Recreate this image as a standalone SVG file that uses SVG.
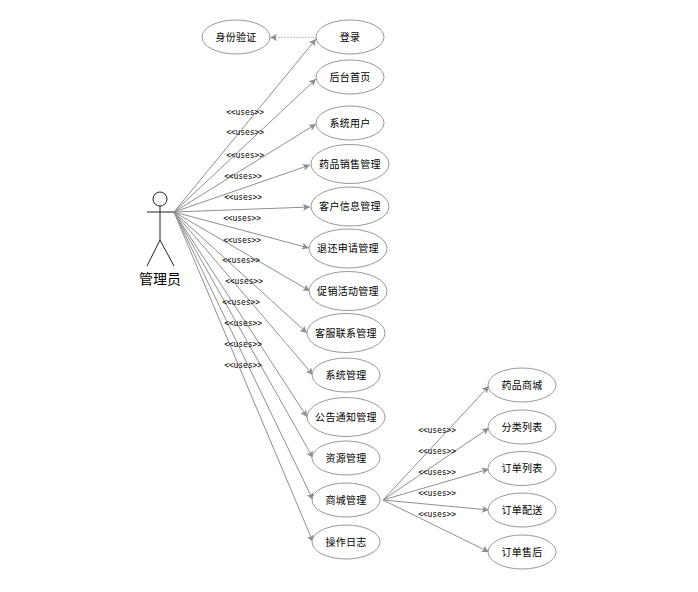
<svg xmlns="http://www.w3.org/2000/svg" width="698" height="592" viewBox="0 0 698 592">
<style>
.n ellipse{fill:#fff;stroke:#999;stroke-width:1}
.n text{font:10px "Noto Sans CJK SC","Liberation Sans",sans-serif;letter-spacing:.3px;fill:#000;text-anchor:middle;dominant-baseline:central}
.l{font:8px "DejaVu Sans Mono","Liberation Mono",monospace;letter-spacing:-.1px;fill:#000;text-anchor:middle}
#connectors line{stroke:#8f8f8f;stroke-width:1;marker-end:url(#a)}
</style>
<defs><marker id="a" markerUnits="userSpaceOnUse" markerWidth="8" markerHeight="8" refX="7" refY="3.500" orient="auto"><path d="M0 0L7 3.500L0 7L1.500 3.500Z" fill="#8f8f8f"/></marker></defs>
<rect width="698" height="592" fill="#fff"/>
<g id="connectors">
<line x1="316" y1="37.500" x2="270" y2="37.500" stroke-dasharray="2 1" style="stroke:#b5b5b5;stroke-width:.8"/>
<line x1="174" y1="212" x2="316" y2="39"/>
<line x1="174" y1="212" x2="316" y2="79"/>
<line x1="174" y1="212" x2="316" y2="124"/>
<line x1="174" y1="212" x2="310" y2="165"/>
<line x1="174" y1="212" x2="310" y2="207"/>
<line x1="174" y1="212" x2="309" y2="248"/>
<line x1="174" y1="212" x2="310" y2="291"/>
<line x1="174" y1="212" x2="307" y2="333"/>
<line x1="174" y1="212" x2="313" y2="375"/>
<line x1="174" y1="212" x2="307" y2="417"/>
<line x1="174" y1="212" x2="313" y2="458"/>
<line x1="174" y1="212" x2="313" y2="500"/>
<line x1="174" y1="212" x2="313" y2="542"/>
<line x1="383" y1="500" x2="489" y2="386"/>
<line x1="383" y1="500" x2="489" y2="428"/>
<line x1="383" y1="500" x2="489" y2="469"/>
<line x1="383" y1="500" x2="489" y2="510"/>
<line x1="383" y1="500" x2="489" y2="552"/>
</g>
<g id="labels">
<text class="l" x="245" y="115">&lt;&lt;uses&gt;&gt;</text>
<text class="l" x="245" y="135">&lt;&lt;uses&gt;&gt;</text>
<text class="l" x="245" y="158">&lt;&lt;uses&gt;&gt;</text>
<text class="l" x="243" y="179">&lt;&lt;uses&gt;&gt;</text>
<text class="l" x="243" y="200">&lt;&lt;uses&gt;&gt;</text>
<text class="l" x="242" y="221">&lt;&lt;uses&gt;&gt;</text>
<text class="l" x="242" y="243">&lt;&lt;uses&gt;&gt;</text>
<text class="l" x="241" y="263">&lt;&lt;uses&gt;&gt;</text>
<text class="l" x="244" y="284">&lt;&lt;uses&gt;&gt;</text>
<text class="l" x="241" y="305">&lt;&lt;uses&gt;&gt;</text>
<text class="l" x="243" y="326">&lt;&lt;uses&gt;&gt;</text>
<text class="l" x="243" y="347">&lt;&lt;uses&gt;&gt;</text>
<text class="l" x="243" y="368">&lt;&lt;uses&gt;&gt;</text>
<text class="l" x="437" y="433">&lt;&lt;uses&gt;&gt;</text>
<text class="l" x="437" y="454">&lt;&lt;uses&gt;&gt;</text>
<text class="l" x="437" y="475">&lt;&lt;uses&gt;&gt;</text>
<text class="l" x="437" y="496">&lt;&lt;uses&gt;&gt;</text>
<text class="l" x="437" y="517">&lt;&lt;uses&gt;&gt;</text>
</g>
<g id="actor" fill="none" stroke="#222" stroke-width="1">
<circle cx="160" cy="199" r="7"/>
<path d="M160 206V240M147 212H174M160 240L147 266M160 240L174 266"/>
<text x="160" y="278" style="font:14px 'Noto Sans CJK SC',sans-serif;fill:#000;stroke:none;text-anchor:middle;dominant-baseline:central">管理员</text>
</g>
<g class="n" id="n1"><ellipse cx="236" cy="37" rx="34" ry="17"/><text x="236" y="36">身份验证</text></g>
<g class="n" id="n2"><ellipse cx="350" cy="37" rx="34" ry="17"/><text x="350" y="36">登录</text></g>
<g class="n" id="n3"><ellipse cx="350" cy="77" rx="34" ry="17"/><text x="350" y="76">后台首页</text></g>
<g class="n" id="n4"><ellipse cx="350" cy="123" rx="34" ry="17"/><text x="350" y="122">系统用户</text></g>
<g class="n" id="n5"><ellipse cx="350" cy="164" rx="39" ry="19.500"/><text x="350" y="163">药品销售管理</text></g>
<g class="n" id="n6"><ellipse cx="350" cy="206.500" rx="39" ry="19.500"/><text x="350" y="205.500">客户信息管理</text></g>
<g class="n" id="n7"><ellipse cx="348" cy="248.500" rx="39" ry="19.500"/><text x="348" y="247.500">退还申请管理</text></g>
<g class="n" id="n8"><ellipse cx="348" cy="291" rx="39" ry="19.500"/><text x="348" y="290">促销活动管理</text></g>
<g class="n" id="n9"><ellipse cx="346" cy="333" rx="39" ry="19.500"/><text x="346" y="332">客服联系管理</text></g>
<g class="n" id="n10"><ellipse cx="346" cy="375" rx="34" ry="17"/><text x="346" y="374">系统管理</text></g>
<g class="n" id="n11"><ellipse cx="346" cy="417" rx="39" ry="19.500"/><text x="346" y="416">公告通知管理</text></g>
<g class="n" id="n12"><ellipse cx="346" cy="458" rx="34" ry="17"/><text x="346" y="457">资源管理</text></g>
<g class="n" id="n13"><ellipse cx="346" cy="500" rx="34" ry="17"/><text x="346" y="499">商城管理</text></g>
<g class="n" id="n14"><ellipse cx="346" cy="542" rx="34" ry="17"/><text x="346" y="541">操作日志</text></g>
<g class="n" id="n15"><ellipse cx="522" cy="385" rx="34" ry="17"/><text x="522" y="384">药品商城</text></g>
<g class="n" id="n16"><ellipse cx="522" cy="427" rx="34" ry="17"/><text x="522" y="426">分类列表</text></g>
<g class="n" id="n17"><ellipse cx="522" cy="468.500" rx="34" ry="17"/><text x="522" y="467.500">订单列表</text></g>
<g class="n" id="n18"><ellipse cx="522" cy="510" rx="34" ry="17"/><text x="522" y="509">订单配送</text></g>
<g class="n" id="n19"><ellipse cx="522" cy="552" rx="34" ry="17"/><text x="522" y="551">订单售后</text></g>
</svg>
